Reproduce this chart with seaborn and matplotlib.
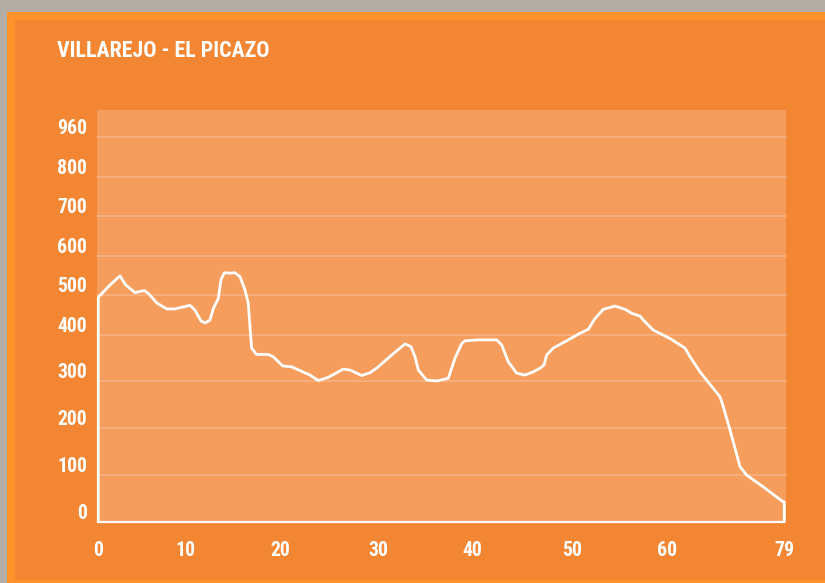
import numpy as np
import pandas as pd
import matplotlib
matplotlib.use("Agg")
import matplotlib.pyplot as plt
import seaborn as sns
from matplotlib import font_manager
from matplotlib.patches import Rectangle
from matplotlib.transforms import ScaledTranslation

# ---------------- data ----------------
TITLE = "VILLAREJO - EL PICAZO"
X_TICKS = [0, 10, 20, 30, 40, 50, 60, 79]
X_LABELS = [str(v) for v in X_TICKS]
Y_TICKS = [0, 100, 200, 300, 400, 500, 600, 700, 800, 960]
Y_LABELS = [str(v) for v in Y_TICKS]

DIST_KM = [0, 0, 1.35, 2.50, 3.16, 4.23, 5.31, 5.77, 6.74, 7.89, 8.85,
           10.52, 11.04, 11.67, 12.09, 12.61, 12.96, 13.48, 13.76, 14.11, 14.70,
           15.22, 15.75, 16.27, 16.61, 16.79, 16.96, 17.48, 18.70, 19.22, 20.21,
           21.13, 23.01, 23.86, 24.89, 26.43, 27.12, 28.32, 29.18, 30.03, 31.45,
           32.85, 33.48, 33.91, 34.26, 35.14, 36.20, 37.42, 38.13, 38.84, 39.19,
           40.56, 42.41, 42.91, 43.57, 44.42, 45.25, 46.08, 46.76, 47.16, 47.43,
           48.09, 49.44, 50.81, 51.69, 52.40, 53.27, 54.51, 55.56, 56.27, 57.15,
           57.50, 58.55, 60.49, 62.92, 63.73, 65.35, 68.59, 69.12, 70.21, 71.83,
           72.91, 75.60, 78.84, 79, 79]
ELEV_M = [0, 495, 526, 549, 526, 507, 512, 505, 481, 466, 466,
          475, 463, 436, 431, 438, 467, 492, 539, 557, 556,
          557, 547, 513, 480, 421, 372, 358, 358, 353, 333,
          331, 313, 301, 308, 326, 324, 312, 318, 331, 357,
          381, 375, 353, 324, 302, 300, 306, 350, 382, 388,
          390, 390, 379, 342, 317, 313, 320, 328, 335, 357,
          372, 388, 405, 415, 442, 465, 473, 465, 455, 448,
          438, 413, 393, 372, 353, 320, 266, 245, 195, 117,
          99, 74, 42, 42, 0]

# ---------------- layout (spacing of the original axis) ----------------
X_TICK_PX = [0, 86.7, 182.4, 279.7, 374.4, 474.0, 568.7, 686.0]
Y_TICK_PX = [0, 47, 94, 140.7, 186.4, 226.4, 266, 305.4, 345, 384.4]


def piecewise(vals, pos):
    vals = np.asarray(vals, float)
    pos = np.asarray(pos, float)

    def make(a, b):
        s0 = (b[1] - b[0]) / (a[1] - a[0])
        s1 = (b[-1] - b[-2]) / (a[-1] - a[-2])

        def f(v):
            v = np.asarray(v, float)
            out = np.interp(v, a, b)
            out = np.where(v < a[0], b[0] + (v - a[0]) * s0, out)
            out = np.where(v > a[-1], b[-1] + (v - a[-1]) * s1, out)
            return out
        return f
    return make(vals, pos), make(pos, vals)


fx, ix = piecewise(X_TICKS, X_TICK_PX)
fy, iy = piecewise(Y_TICKS, Y_TICK_PX)

# ---------------- fonts ----------------
names = {f.name for f in font_manager.fontManager.ttflist}
if "Liberation Sans Narrow" in names:
    FAM, k = "Liberation Sans Narrow", 1.0
elif "Roboto Condensed" in names:
    FAM, k = "Roboto Condensed", 0.95
else:
    FAM, k = "Liberation Sans", 0.85

sns.set_theme(style="white")
plt.rcParams["font.family"] = [FAM, "DejaVu Sans"]

W, H = 825, 583
fig = plt.figure(figsize=(W / 100, H / 100), dpi=100)
fig.patch.set_facecolor("#F28633")


def frect(x0, y0, x1, y1, color, z=0):
    fig.patches.append(Rectangle((x0 / W, 1 - y1 / H), (x1 - x0) / W, (y1 - y0) / H,
                                 transform=fig.transFigure, facecolor=color,
                                 edgecolor="none", zorder=z))


frect(0, 0, W, H, "#B3ADA6", -5)
frect(7, 12, W, H, "#FD9329", -4)
frect(15, 20, W, 580, "#F28633", -3)
frect(97, 110, 786, 521.7, "#F49D5C", -2)

ax = fig.add_axes([98.3 / W, (H - 521.7) / H, 686 / W, (521.7 - 110) / H])
ax.set_facecolor("none")

df = pd.DataFrame({"km": DIST_KM, "m": ELEV_M})
sns.lineplot(data=df, x="km", y="m", estimator=None, sort=False, ax=ax,
             color="white", linewidth=2.0, clip_on=False,
             solid_joinstyle="round", solid_capstyle="round", zorder=5)

ax.set_xscale("function", functions=(fx, ix))
ax.set_yscale("function", functions=(fy, iy))
ax.set_xlim(0, 79)
ax.set_ylim(0, float(iy(411.7)))
ax.set_xlabel("")
ax.set_ylabel("")

# gridlines
ax.set_yticks(Y_TICKS, Y_LABELS)
for v in Y_TICKS[1:]:
    ax.axhline(v, color="#F7B587", lw=1.1, zorder=1, clip_on=False,
               xmin=-1.3 / 686, xmax=1 + 1.7 / 686)

ax.set_xticks(X_TICKS, X_LABELS)
ax.set_xticks(X_TICKS[1:-1], minor=True)
ax.tick_params(axis="x", which="major", length=0, pad=14, colors="white",
               labelsize=15 * k)
ax.tick_params(axis="x", which="minor", direction="inout", length=16.5,
               width=1.5, color="white")
ax.tick_params(axis="y", which="major", length=0, pad=8, colors="white",
               labelsize=15 * k)
ax.tick_params(axis="y", which="minor", length=0)
ax.yaxis.set_minor_locator(matplotlib.ticker.NullLocator())

off = ScaledTranslation(0, 0.105, fig.dpi_scale_trans)
for lab in ax.get_yticklabels():
    lab.set_transform(lab.get_transform() + off)
    lab.set_fontweight("bold")
for lab in ax.get_xticklabels():
    lab.set_fontweight("bold")

for s in ["left", "right", "top"]:
    ax.spines[s].set_visible(False)
ax.spines["bottom"].set_color("white")
ax.spines["bottom"].set_linewidth(1.6)
ax.grid(False)

fig.text(57 / W, 1 - 57.3 / H, TITLE, color="white", fontsize=16.6 * k,
         fontweight="bold", ha="left", va="baseline")

fig.savefig("out.png", dpi=100, facecolor=fig.get_facecolor())
